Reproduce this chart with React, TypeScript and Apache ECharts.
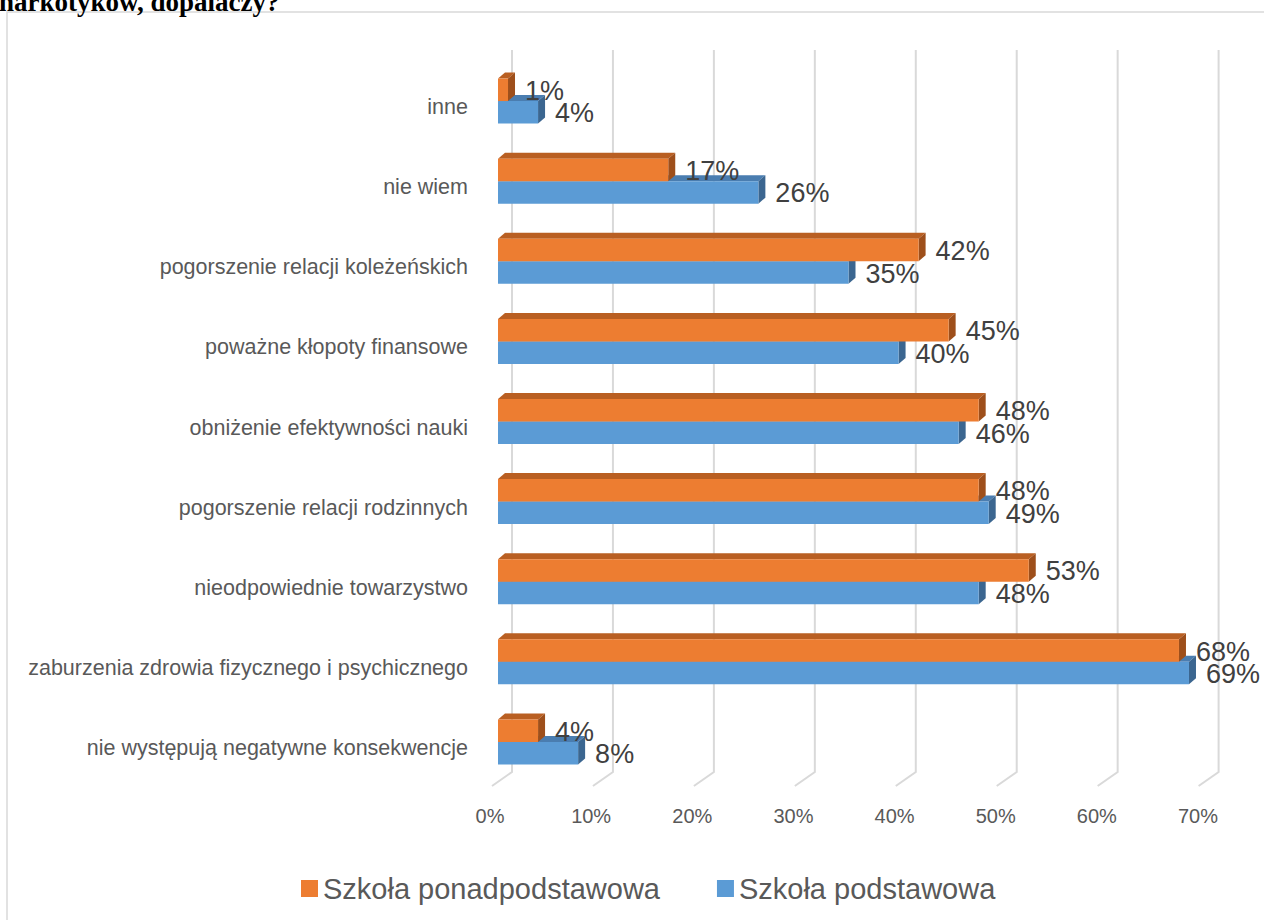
import React, { useEffect, useRef } from "react";
import * as echarts from "echarts";

const categories = [
  "nie występują negatywne konsekwencje",
  "zaburzenia zdrowia fizycznego i psychicznego",
  "nieodpowiednie towarzystwo",
  "pogorszenie relacji rodzinnych",
  "obniżenie efektywności nauki",
  "poważne kłopoty finansowe",
  "pogorszenie relacji koleżeńskich",
  "nie wiem",
  "inne",
];
const ponadpodstawowa = [4, 68, 53, 48, 48, 45, 42, 17, 1];
const podstawowa = [8, 69, 48, 49, 46, 40, 35, 26, 4];
const xTicks = [0, 10, 20, 30, 40, 50, 60, 70];
const seriesNames = ["Szkoła ponadpodstawowa", "Szkoła podstawowa"];
const titleText = "narkotyków, dopalaczy?";

const FONT = '"Liberation Sans", Arial, sans-serif';

function make3DBar(front: string, top: string, side: string, upper: boolean) {
  return (params: any, api: any) => {
    const val = api.value(0);
    const idx = api.value(1);
    const p0 = api.coord([0, idx]);
    const p1 = api.coord([val, idx]);
    const h = 22.5;
    const dx = 7;
    const dy = 6;
    const y0 = upper ? p0[1] - h : p0[1];
    const x0 = p0[0];
    const x1 = p1[0];
    return {
      type: "group",
      children: [
        {
          type: "polygon",
          shape: { points: [[x0, y0], [x0 + dx, y0 - dy], [x1 + dx, y0 - dy], [x1, y0]] },
          style: { fill: top },
        },
        {
          type: "polygon",
          shape: { points: [[x1, y0], [x1 + dx, y0 - dy], [x1 + dx, y0 + h - dy], [x1, y0 + h]] },
          style: { fill: side },
        },
        {
          type: "rect",
          shape: { x: x0, y: y0, width: x1 - x0, height: h },
          style: { fill: front },
        },
        {
          type: "text",
          style: {
            text: val + "%",
            x: x1 + 17,
            y: y0 + h / 2 + 1,
            fill: "#404040",
            fontSize: 27,
            fontFamily: FONT,
            align: "left",
            verticalAlign: "middle",
          },
        },
      ],
    };
  };
}

export default function App() {
  const ref = useRef<HTMLDivElement>(null);
  useEffect(() => {
    if (!ref.current) return;
    const chart = echarts.init(ref.current, undefined, { renderer: "svg" });
    const option: any = {
      animation: false,
      backgroundColor: "#ffffff",
      textStyle: { fontFamily: FONT },
      graphic: [
        {
          type: "rect",
          shape: { x: 7, y: 12, width: 1300, height: 1000 },
          style: { fill: "none", stroke: "#d9d9d9", lineWidth: 1.5 },
        },
        {
          type: "text",
          left: -1,
          top: -12,
          style: {
            text: titleText,
            fill: "#000000",
            font: 'bold 27px "Liberation Serif", "Times New Roman", serif',
          },
        },
      ],
      legend: {
        data: seriesNames,
        left: 296,
        top: 869,
        icon: "rect",
        itemWidth: 17,
        itemHeight: 17,
        itemGap: 57,
        textStyle: { fontSize: 29, color: "#595959", fontFamily: FONT },
      },
      grid: [
        { left: 498, right: 65, top: 61, bottom: 138, containLabel: false },
        { left: 490, right: 66, top: 61, bottom: 138, containLabel: false },
      ],
      xAxis: [
        { type: "value", gridIndex: 0, min: 0, max: 70, interval: 10, show: false },
        {
          type: "value",
          gridIndex: 1,
          min: 0,
          max: 70,
          interval: 10,
          axisLine: { show: false },
          axisTick: { show: false },
          splitLine: { show: false },
          axisLabel: {
            formatter: "{value}%",
            fontSize: 20,
            color: "#595959",
            margin: 24,
            fontFamily: FONT,
          },
        },
      ],
      yAxis: [
        {
          type: "category",
          gridIndex: 0,
          data: categories,
          axisLine: { show: false },
          axisTick: { show: false },
          splitLine: { show: false },
          axisLabel: {
            fontSize: 21.5,
            color: "#595959",
            margin: 30,
            fontFamily: FONT,
            verticalAlign: "top",
            lineHeight: 12,
          },
        },
        { type: "value", gridIndex: 1, min: 0, max: 1, show: false },
      ],
      series: [
        {
          type: "custom",
          name: "grid",
          xAxisIndex: 0,
          yAxisIndex: 0,
          z: 1,
          silent: true,
          data: xTicks.map((v) => [v, 0]),
          encode: { x: 0, y: 1 },
          renderItem: (params: any, api: any) => {
            const v = api.value(0);
            const cs = params.coordSys;
            const x = api.coord([v, 0])[0];
            const rel = (x - cs.x) * 1.008;
            const bx = cs.x + 14 + rel;
            const fx = cs.x - 6 + rel;
            const topY = cs.y - 11;
            const backBottom = cs.y + cs.height - 10;
            const frontBottom = cs.y + cs.height + 4;
            return {
              type: "polyline",
              shape: { points: [[bx, topY], [bx, backBottom], [fx, frontBottom]] },
              style: { stroke: "#d9d9d9", lineWidth: 2, fill: null },
            };
          },
        },
        {
          type: "custom",
          name: seriesNames[1],
          xAxisIndex: 0,
          yAxisIndex: 0,
          z: 2,
          itemStyle: { color: "#5b9bd5" },
          data: podstawowa.map((v, i) => [v, i]),
          encode: { x: 0, y: 1 },
          renderItem: make3DBar("#5b9bd5", "#4a7db0", "#3b6690", false),
        },
        {
          type: "custom",
          name: seriesNames[0],
          xAxisIndex: 0,
          yAxisIndex: 0,
          z: 3,
          itemStyle: { color: "#ed7d31" },
          data: ponadpodstawowa.map((v, i) => [v, i]),
          encode: { x: 0, y: 1 },
          renderItem: make3DBar("#ed7d31", "#b95f22", "#9e4f1b", true),
        },
      ],
    };
    chart.setOption(option);
    return () => chart.dispose();
  }, []);
  return (
    <div
      ref={ref}
      style={{ position: "absolute", left: 0, top: 0, width: 1264, height: 920, background: "#fff" }}
    />
  );
}
